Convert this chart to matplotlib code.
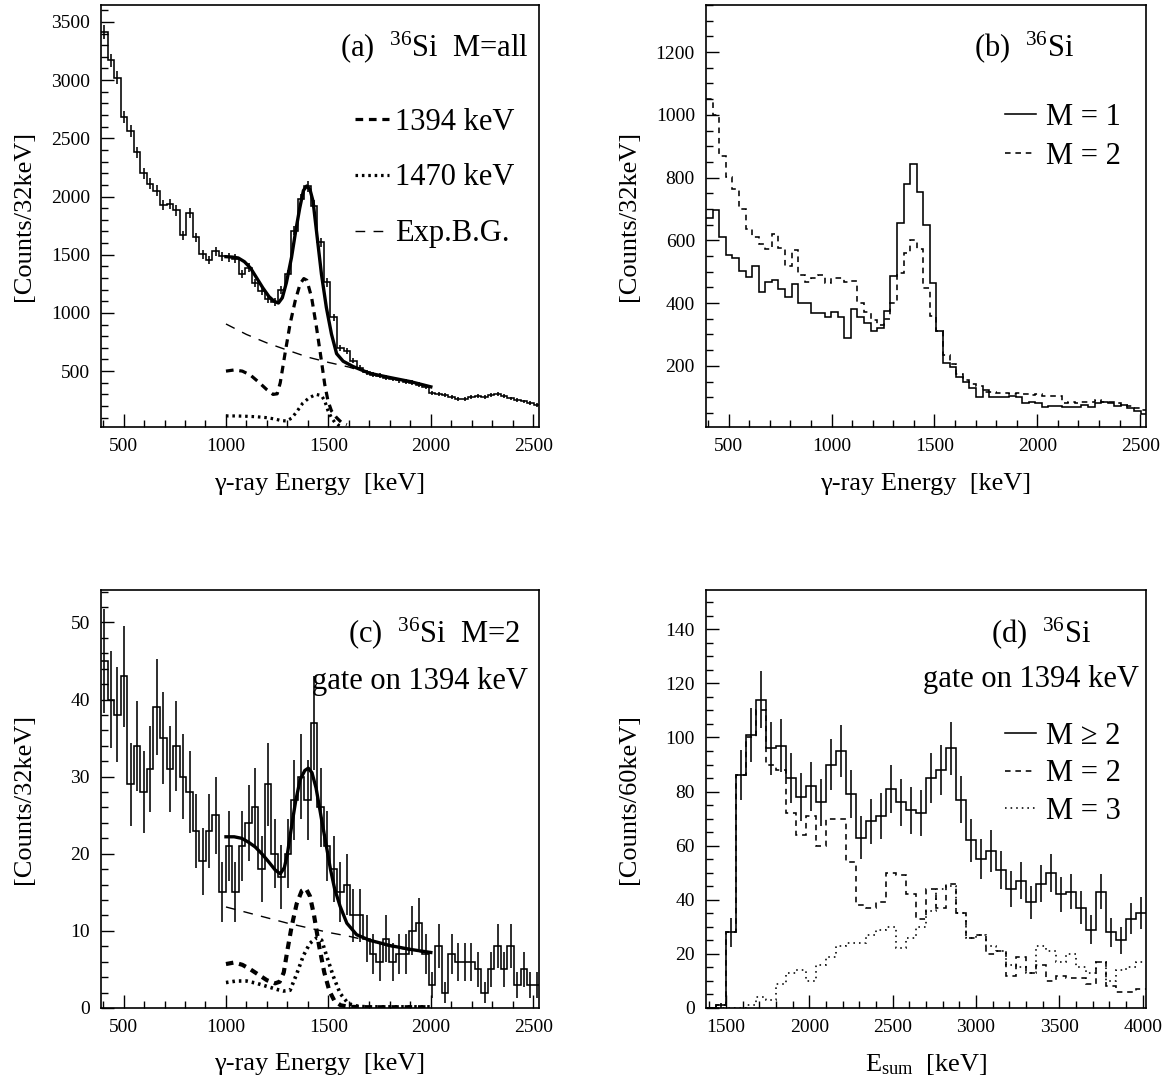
import numpy as np
import matplotlib
matplotlib.use("Agg")
import matplotlib.pyplot as plt
from matplotlib.ticker import MultipleLocator

plt.rcParams['font.family'] = ['Liberation Serif', 'DejaVu Serif']
plt.rcParams['mathtext.fontset'] = 'custom'
plt.rcParams['mathtext.rm'] = 'Liberation Serif'
plt.rcParams['mathtext.it'] = 'Liberation Serif:italic'

# ---------------- data ----------------
# gamma-ray spectra: 32 keV bins starting at 390 keV
g_bin_start = 390
g_bin_width = 32

a_counts = [3414, 3170, 3020, 2680, 2565, 2380, 2200, 2110, 2050, 1925,
            1935, 1880, 1665, 1860, 1650, 1505, 1455, 1530, 1485, 1480,
            1465, 1335, 1390, 1260, 1190, 1120, 1095, 1200, 1336, 1707,
            1980, 2086, 1922, 1606, 1262, 961, 702, 674, 590, 530,
            490, 470, 460, 445, 432, 420, 410, 400, 385, 365,
            310, 300, 295, 275, 262, 262, 280, 285, 280, 295,
            300, 285, 265, 255, 240, 225, 210]

a_fit_E = [1000, 1030, 1060, 1090, 1120, 1150, 1180, 1210, 1235, 1256, 1275, 1295,
           1320, 1340, 1360, 1378, 1394, 1410, 1425, 1442, 1466, 1490, 1515, 1540,
           1572, 1620, 1700, 1800, 1900, 2000]
a_fit_V = [1483, 1480, 1472, 1440, 1385, 1300, 1215, 1140, 1100, 1085, 1130, 1260,
           1477, 1700, 1900, 2051, 2090, 2060, 1960, 1700, 1334, 1047, 818, 650,
           585, 540, 482, 445, 410, 365]
a_bg_E = [1000, 1100, 1200, 1300, 1400, 1500, 1600, 1700, 1800, 1900, 2000]
a_bg_V = [905, 815, 742, 680, 620, 575, 535, 480, 443, 408, 363]
a_p1_E = [1000, 1040, 1080, 1120, 1160, 1200, 1230, 1250, 1265, 1288, 1313, 1338,
          1362, 1380, 1395, 1418, 1442, 1466, 1482, 1498, 1515, 1540, 1565, 1590]
a_p1_V = [500, 510, 500, 465, 405, 340, 300, 305, 400, 648, 906, 1104,
          1250, 1295, 1280, 1133, 875, 588, 387, 244, 158, 100, 57, 40]
a_p2_E = [1000, 1050, 1100, 1150, 1200, 1240, 1270, 1295, 1320, 1345, 1375, 1407,
          1440, 1466, 1482, 1498, 1515, 1531, 1550, 1570]
a_p2_V = [115, 115, 112, 108, 100, 88, 75, 72, 95, 150, 225, 272,
          300, 290, 245, 160, 100, 60, 35, 22]

b_m1 = [670, 697, 612, 553, 543, 503, 483, 519, 436, 467,
        473, 446, 420, 462, 401, 401, 369, 369, 355, 371,
        355, 290, 380, 355, 335, 310, 320, 375, 485, 655,
        780, 843, 755, 650, 465, 310, 210, 195, 165, 150,
        130, 100, 122, 100, 100, 102, 104, 100, 82, 84,
        80, 70, 72, 72, 70, 70, 68, 74, 70, 82,
        84, 80, 72, 75, 66, 55, 45]
b_m2 = [1050, 1000, 870, 802, 763, 700, 636, 610, 588, 572,
        620, 575, 519, 569, 489, 467, 481, 489, 465, 481,
        481, 467, 470, 400, 370, 345, 330, 350, 401, 497,
        561, 600, 572, 449, 358, 312, 235, 205, 175, 155,
        142, 135, 118, 118, 114, 114, 110, 112, 110, 108,
        109, 104, 104, 105, 82, 85, 80, 84, 86, 90,
        85, 85, 80, 76, 72, 66, 60]

c_counts = [45, 40, 38, 43, 29, 34, 28, 31, 39, 35,
            31, 34, 30, 28, 23, 19, 23, 25, 15, 21,
            15, 21, 24, 26, 18, 29, 20, 17, 20, 27,
            30, 27, 37, 26, 21, 18, 15, 16, 12, 12,
            9, 7, 6, 9, 6, 7, 7, 10, 11, 7,
            3, 8, 2, 7, 6, 6, 6, 5, 2, 5,
            8, 5, 8, 3, 5, 3, 3]
c_fit_E = [1000, 1040, 1077, 1110, 1142, 1175, 1207, 1240, 1265, 1285, 1300, 1320,
           1340, 1362, 1385, 1402, 1420, 1440, 1467, 1490, 1510, 1530, 1557, 1590,
           1638, 1700, 1800, 1900, 2000]
c_fit_V = [22.2, 22.2, 22.0, 21.5, 20.9, 20.0, 19.0, 17.9, 17.4, 18.2, 20.0, 23.5,
           26.8, 29.6, 30.8, 31.1, 30.5, 28.5, 24.4, 21.0, 18.0, 15.5, 13.2, 11.0,
           9.5, 8.8, 8.1, 7.6, 7.2]
c_bg_E = [1000, 1100, 1200, 1300, 1400, 1500, 1600, 1700, 1800, 1900, 2000]
c_bg_V = [13.1, 12.4, 11.7, 11.0, 10.4, 9.8, 9.3, 8.7, 8.0, 7.5, 7.1]
c_p1_E = [1000, 1040, 1080, 1120, 1160, 1200, 1240, 1262, 1282, 1300, 1320, 1345,
          1370, 1390, 1410, 1430, 1455, 1480, 1505, 1530, 1560, 1600, 1700, 1800,
          1900, 2000]
c_p1_V = [5.7, 5.9, 5.6, 5.0, 4.3, 3.6, 3.2, 3.4, 4.6, 7.5, 10.5, 13.5,
          15.2, 15.5, 14.5, 12.0, 8.0, 4.6, 2.2, 0.9, 0.35, 0.15, 0.1, 0.1,
          0.1, 0.1]
c_p2_E = [1000, 1050, 1100, 1150, 1200, 1250, 1280, 1313, 1345, 1378, 1410, 1443,
          1467, 1492, 1524, 1557, 1590, 1614, 1650, 1700, 1800, 1900, 2000]
c_p2_V = [3.3, 3.5, 3.5, 3.2, 2.8, 2.4, 2.2, 2.3, 4.4, 6.8, 8.4, 9.1,
          8.8, 6.7, 4.1, 1.9, 0.8, 0.4, 0.2, 0.15, 0.15, 0.15, 0.15]

# sum-energy spectra: 60 keV bins starting at 1380 keV
d_bin_start = 1380
d_bin_width = 60
d_all = [0, 1, 28, 86, 101, 114, 96, 97, 85, 78,
         82, 76, 90, 95, 79, 63, 69, 71, 81, 76,
         73, 72, 85, 88, 96, 77, 62, 55, 58, 51,
         44, 47, 39, 46, 50, 42, 43, 37, 29, 43,
         28, 25, 33, 35]
d_m2 = [0, 1, 28, 86, 100, 110, 90, 88, 72, 64,
        71, 60, 70, 70, 54, 38, 37, 39, 50, 49,
        42, 33, 44, 37, 46, 35, 26, 27, 20, 21,
        12, 19, 13, 16, 10, 12, 11, 11, 9, 17,
        8, 6, 6, 7]
d_m3 = [0, 0, 0, 0, 1, 4, 3, 9, 13, 14,
        10, 16, 19, 23, 24, 24, 27, 29, 30, 22,
        26, 30, 36, 44, 45, 35, 26, 27, 23, 21,
        16, 15, 13, 23, 21, 17, 20, 15, 13, 17,
        10, 14, 15, 17]

# ---------------- figure ----------------
W, H = 1172, 1084
fig = plt.figure(figsize=(W / 100, H / 100), dpi=100)

def make_ax(l, t, r, b):
    return fig.add_axes([l / W, 1 - b / H, (r - l) / W, (b - t) / H])

axA = make_ax(101, 5, 539, 427)
axB = make_ax(706, 5, 1146, 427)
axC = make_ax(101, 590, 539, 1008)
axD = make_ax(706, 590, 1146, 1008)

LW = 1.15
TXT = 22

def edges_for(vals, start, width):
    return start + width * np.arange(len(vals) + 1)

def hist(ax, vals, start, width, errors=False, **kw):
    v = np.asarray(vals, dtype=float)
    e = edges_for(v, start, width)
    ax.stairs(v, e, baseline=None, color='k', lw=LW, **kw)
    if errors:
        c = 0.5 * (e[:-1] + e[1:])
        ax.errorbar(c, v, yerr=np.sqrt(v), fmt='none', ecolor='k',
                    elinewidth=LW, capsize=0)

def style(ax, xlim, ylim, xmaj, xmin, ymaj, ymin, xlabel, ylabel):
    ax.set_xlim(*xlim)
    ax.set_ylim(*ylim)
    ax.xaxis.set_major_locator(MultipleLocator(xmaj))
    ax.xaxis.set_minor_locator(MultipleLocator(xmin))
    ax.yaxis.set_major_locator(MultipleLocator(ymaj))
    ax.yaxis.set_minor_locator(MultipleLocator(ymin))
    ax.tick_params(which='both', direction='in', top=False, right=False,
                   labelsize=14, pad=8, width=1.0)
    ax.tick_params(which='major', length=9.5)
    ax.tick_params(which='minor', length=5)
    for s in ax.spines.values():
        s.set_linewidth(1.2)
    ax.set_xlabel(xlabel, fontsize=19)
    ax.set_ylabel(ylabel, fontsize=19)
    ax.xaxis.label.set_va('center')
    ax.yaxis.label.set_va('center')
    ax.xaxis.set_label_coords(0.5, -0.135)
    wpx = ax.get_position().width * W
    ax.yaxis.set_label_coords(-77 / wpx, 0.5)

GLABEL = 'γ-ray Energy  [keV]'
YL32 = '[Counts/32keV]'

# ----- (a) -----
hist(axA, a_counts, g_bin_start, g_bin_width, errors=True)
l3, = axA.plot(a_bg_E, a_bg_V, color='k', lw=1.0, dashes=(7, 6), label='Exp.B.G.')
l1, = axA.plot(a_p1_E, a_p1_V, color='k', lw=2.3, dashes=(2.4, 1.8), label='1394 keV')
l2, = axA.plot(a_p2_E, a_p2_V, color='k', lw=2.3, dashes=(0.8, 1.2), label='1470 keV')
axA.plot(a_fit_E, a_fit_V, color='k', lw=2.4)
style(axA, (390, 2528), (20, 3645), 500, 100, 500, 100, GLABEL, YL32)
axA.text(0.975, 0.9, r'(a)  $\mathregular{^{36}}$Si  M=all', transform=axA.transAxes,
         ha='right', va='center', fontsize=TXT)
axA.legend(handles=[l1, l2, l3], loc='upper left', bbox_to_anchor=(0.58, 0.757),
           frameon=False, fontsize=TXT, handlelength=1.1, handletextpad=0.2,
           labelspacing=0.88, borderpad=0, borderaxespad=0)

# ----- (b) -----
hist(axB, b_m1, g_bin_start, g_bin_width)
hist(axB, b_m2, g_bin_start, g_bin_width, linestyle=(0, (3.5, 3)))
style(axB, (390, 2528), (5, 1350), 500, 100, 200, 50, GLABEL, YL32)
axB.text(0.836, 0.9, r'(b)  $\mathregular{^{36}}$Si', transform=axB.transAxes,
         ha='right', va='center', fontsize=TXT)
hb1, = axB.plot([], [], color='k', lw=LW, label='M = 1')
hb2, = axB.plot([], [], color='k', lw=LW, ls=(0, (3.5, 3)), label='M = 2')
axB.legend(handles=[hb1, hb2], loc='upper left', bbox_to_anchor=(0.68, 0.768),
           frameon=False, fontsize=TXT, handlelength=1.0, handletextpad=0.35,
           labelspacing=0.33, borderpad=0, borderaxespad=0)

# ----- (c) -----
hist(axC, c_counts, g_bin_start, g_bin_width, errors=True)
axC.plot(c_bg_E, c_bg_V, color='k', lw=1.0, dashes=(7, 6))
axC.plot(c_p1_E, c_p1_V, color='k', lw=3.0, dashes=(1.8, 1.4))
axC.plot(c_p2_E, c_p2_V, color='k', lw=2.6, dashes=(0.7, 1.1))
axC.plot(c_fit_E, c_fit_V, color='k', lw=2.4)
style(axC, (390, 2528), (0, 54.2), 500, 100, 10, 2, GLABEL, YL32)
axC.text(0.957, 0.897, r'(c)  $\mathregular{^{36}}$Si  M=2', transform=axC.transAxes,
         ha='right', va='center', fontsize=TXT)
axC.text(0.975, 0.78, 'gate on 1394 keV', transform=axC.transAxes,
         ha='right', va='center', fontsize=TXT)

# ----- (d) -----
hist(axD, d_m3, d_bin_start, d_bin_width, linestyle=(0, (1, 2.5)))
hist(axD, d_m2, d_bin_start, d_bin_width, linestyle=(0, (3.5, 3)))
hist(axD, d_all, d_bin_start, d_bin_width, errors=True)
style(axD, (1380, 4020), (0, 154.5), 500, 100, 20, 5,
      r'E$_{\mathregular{sum}}$  [keV]', '[Counts/60keV]')
axD.text(0.875, 0.897, r'(d)  $\mathregular{^{36}}$Si', transform=axD.transAxes,
         ha='right', va='center', fontsize=TXT)
axD.text(0.985, 0.785, 'gate on 1394 keV', transform=axD.transAxes,
         ha='right', va='center', fontsize=TXT)
hd1, = axD.plot([], [], color='k', lw=LW, label='M ≥ 2')
hd2, = axD.plot([], [], color='k', lw=LW, ls=(0, (3.5, 3)), label='M = 2')
hd3, = axD.plot([], [], color='k', lw=LW, ls=(0, (1, 2.5)), label='M = 3')
axD.legend(handles=[hd1, hd2, hd3], loc='upper left', bbox_to_anchor=(0.68, 0.685),
           frameon=False, fontsize=TXT, handlelength=1.0, handletextpad=0.35,
           labelspacing=0.28, borderpad=0, borderaxespad=0)

fig.savefig('out.png', dpi=100)
